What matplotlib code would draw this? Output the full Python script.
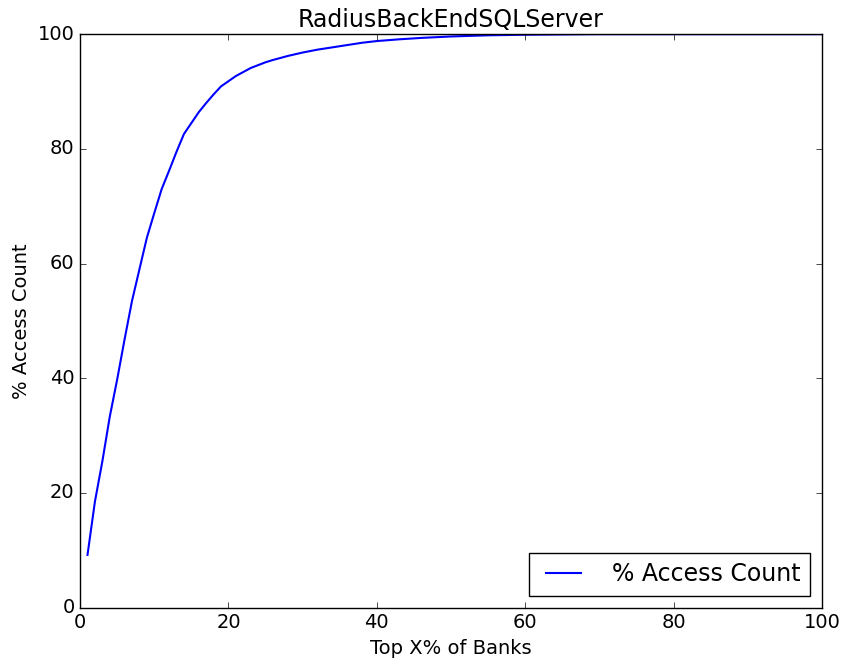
import matplotlib
matplotlib.use("Agg")
import matplotlib.pyplot as plt

# cumulative share of accesses covered by the top X% of banks
top_pct = [1, 2, 3, 4, 5, 6, 7, 8, 9, 10, 11, 12, 13, 14, 15, 16, 17, 18, 19,
           20, 21, 22, 23, 24, 25, 26, 28, 30, 32, 34, 36, 38, 40, 43, 46, 50,
           55, 60, 65, 70, 80, 90, 100]
access_pct = [9.2, 18.5, 25.5, 33.3, 39.8, 46.8, 53.5, 59.0, 64.5, 68.8, 73.0,
              76.2, 79.5, 82.6, 84.5, 86.4, 88.0, 89.5, 90.9, 91.8, 92.7, 93.4,
              94.1, 94.6, 95.1, 95.5, 96.2, 96.8, 97.3, 97.7, 98.1, 98.5, 98.8,
              99.1, 99.35, 99.6, 99.8, 99.9, 99.95, 100, 100, 100, 100]

plt.style.use("classic")
fig, ax = plt.subplots(figsize=(8.43, 6.70), dpi=100)
fig.patch.set_facecolor("white")
fig.subplots_adjust(left=0.095, right=0.975, bottom=0.093, top=0.949)

ax.plot(top_pct, access_pct, color="b", lw=1.5, label="% Access Count")
ax.set_xlim(0, 100)
ax.set_ylim(0, 100)
ax.set_xlabel("Top X% of Banks", fontsize=14)
ax.set_ylabel("% Access Count", fontsize=14)
ax.set_title("RadiusBackEndSQLServer", fontsize=17)
ax.tick_params(labelsize=14)
ax.legend(loc="lower right", fontsize=17, handlelength=2.1,
          handletextpad=1.0, borderaxespad=0.5)

fig.savefig("out.png", dpi=100)
